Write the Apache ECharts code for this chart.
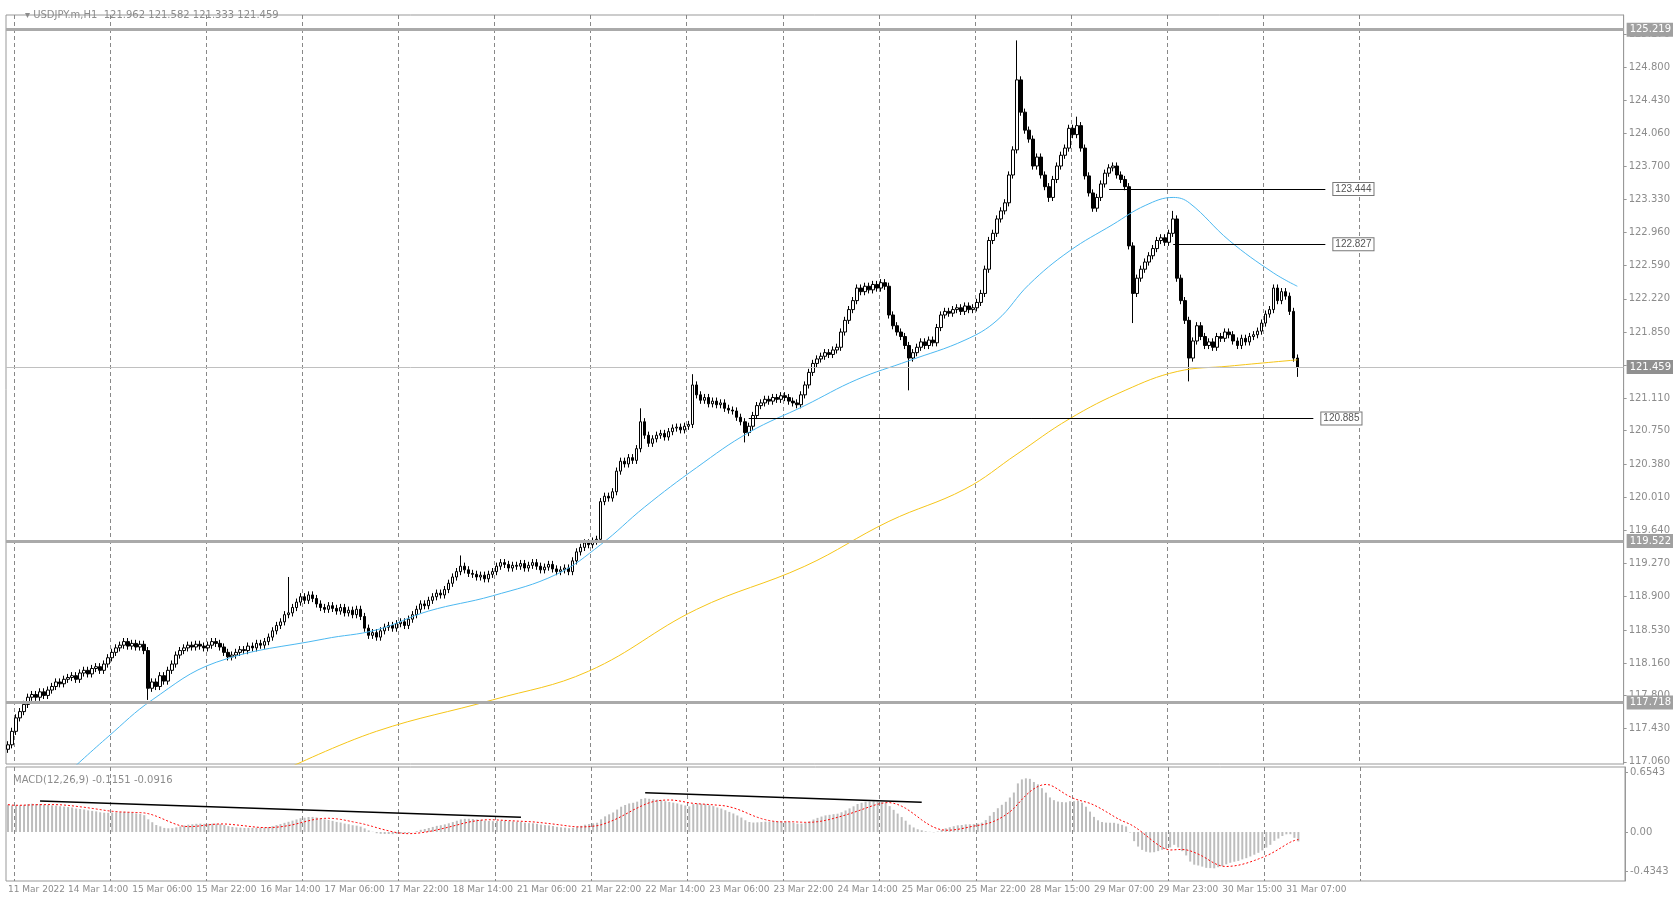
<!DOCTYPE html>
<html><head><meta charset="utf-8">
<script src="https://cdn.jsdelivr.net/npm/echarts@6/dist/echarts.min.js"></script>
<style>html,body{margin:0;padding:0;background:#fff}#c{width:1673px;height:897px}</style>
</head><body><div id="c"></div>
<script>
const closes = [
117.25,117.40,117.55,117.62,117.70,117.78,117.81,117.78,117.84,117.80,117.86,117.90,117.95,117.93,117.98,118.00,
118.02,117.98,118.05,118.08,118.04,118.10,118.12,118.08,118.15,118.22,118.28,118.33,118.36,118.40,118.35,118.38,
118.34,118.37,118.30,117.88,117.95,117.90,118.02,117.96,118.08,118.15,118.25,118.30,118.33,118.36,118.34,118.37,
118.35,118.33,118.36,118.40,118.38,118.34,118.28,118.23,118.25,118.28,118.31,118.30,118.35,118.33,118.38,118.36,
118.40,118.45,118.52,118.58,118.62,118.70,118.72,118.78,118.84,118.90,118.86,118.92,118.88,118.82,118.78,118.76,
118.80,118.77,118.74,118.78,118.72,118.75,118.70,118.76,118.68,118.55,118.47,118.50,118.45,118.52,118.56,118.58,
118.55,118.60,118.62,118.58,118.65,118.70,118.76,118.82,118.80,118.86,118.90,118.94,118.92,118.98,119.05,119.12,
119.18,119.24,119.20,119.16,119.15,119.12,119.14,119.10,119.15,119.18,119.24,119.28,119.26,119.22,119.25,119.24,
119.27,119.22,119.25,119.28,119.24,119.20,119.23,119.26,119.21,119.18,119.20,119.22,119.18,119.30,119.40,119.45,
119.50,119.48,119.52,119.54,119.96,120.02,120.00,120.07,120.30,120.41,120.38,120.45,120.42,120.55,120.85,120.70,
120.61,120.66,120.70,120.72,120.68,120.74,120.78,120.79,120.76,120.80,120.82,121.26,121.15,121.09,121.12,121.05,
121.08,121.04,121.06,121.00,120.98,120.97,120.90,120.85,120.73,120.80,120.92,121.03,121.06,121.10,121.08,121.12,
121.10,121.14,121.12,121.08,121.06,121.04,121.15,121.26,121.40,121.50,121.55,121.58,121.62,121.60,121.65,121.68,
121.85,121.98,122.10,122.20,122.34,122.30,122.36,122.32,122.38,122.34,122.40,122.36,122.04,121.92,121.85,121.80,
121.70,121.56,121.62,121.68,121.74,121.70,121.76,121.73,121.90,122.04,122.08,122.06,122.10,122.12,122.08,122.14,
122.10,122.12,122.18,122.28,122.55,122.87,122.95,123.11,123.20,123.29,123.60,123.88,124.66,124.30,124.10,124.00,
123.70,123.80,123.60,123.47,123.35,123.55,123.70,123.82,123.90,124.12,124.05,124.15,123.90,123.59,123.40,123.23,
123.35,123.50,123.62,123.68,123.70,123.60,123.55,123.47,122.81,122.28,122.45,122.55,122.63,122.70,122.78,122.87,
122.90,122.85,122.95,123.11,122.45,122.20,121.98,121.56,121.75,121.92,121.80,121.70,121.74,121.68,121.80,121.78,
121.85,121.82,121.75,121.70,121.78,121.74,121.80,121.82,121.86,121.95,122.05,122.10,122.34,122.20,122.30,122.25,
122.08,121.56,121.459];
const firstOpen = 117.20;
// [barIndex, high, low] wick overrides
const wicks = [[35,null,117.75],[70,119.12,null],[113,119.36,null],[158,121.0,null],[171,121.38,null],[184,null,120.62],
[225,null,121.2],[252,125.1,null],[260,null,123.3],[267,124.25,null],[281,null,121.95],[291,123.2,null],[295,null,121.3],[322,null,121.35]];
const maFast = [[16,116.98],[25,117.34],[36,117.75],[52,118.17],[79,118.43],[92,118.53],[105,118.74],[121,118.91],[137,119.15],[148,119.48],
[159,119.9],[172,120.34],[185,120.73],[199,121.03],[212,121.32],[225,121.53],[239,121.76],[247,121.98],[255,122.38],[265,122.75],
[276,123.05],[284,123.26],[291,123.35],[295,123.29],[305,122.87],[316,122.51],[322,122.36]];
const maSlow = [[70,116.99],[92,117.4],[121,117.75],[145,118.07],[172,118.76],[199,119.24],[220,119.74],[239,120.1],[252,120.49],
[265,120.88],[279,121.2],[292,121.41],[305,121.47],[322,121.54]];
const xLabels = ["11 Mar 2022","14 Mar 14:00","15 Mar 06:00","15 Mar 22:00","16 Mar 14:00","17 Mar 06:00","17 Mar 22:00","18 Mar 14:00",
"21 Mar 06:00","21 Mar 22:00","22 Mar 14:00","23 Mar 06:00","23 Mar 22:00","24 Mar 14:00","25 Mar 06:00","25 Mar 22:00",
"28 Mar 15:00","29 Mar 07:00","29 Mar 23:00","30 Mar 15:00","31 Mar 07:00"];
const yTicks = [117.06,117.43,117.80,118.16,118.53,118.90,119.27,119.64,120.01,120.38,120.75,121.11,121.48,121.85,122.22,122.59,122.96,123.33,123.70,124.06,124.43,124.80,125.17];
const priceLines = [125.219,119.522,117.718];
const lastPrice = 121.459;
const levels = [[275,123.444],[291,122.827],[185,120.885]];
const levelEnds = [329,329,326];
const macdTrends = [[[8,0.339],[128,0.163]],[[159,0.432],[228,0.327]]];
const macdSeedGap = 0.30;

const N = 404;
const cats = []; for (let i=0;i<N;i++) cats.push(i);
const wmap = {}; wicks.forEach(w=>wmap[w[0]]=w);
const ohlc = closes.map((c,i)=>{
  const o = i===0?firstOpen:closes[i-1];
  let h = Math.max(o,c)+0.04, l = Math.min(o,c)-0.04;
  if (wmap[i]) { if (wmap[i][1]!=null) h=wmap[i][1]; if (wmap[i][2]!=null) l=wmap[i][2]; }
  return [o,c,l,h];
});
let e12=closes[0], e26=closes[0]-macdSeedGap; const macd=[], sig=[];
closes.forEach((c,i)=>{ if(i>0){e12=e12+(c-e12)*2/13; e26=e26+(c-e26)*2/27;} macd.push(+(e12-e26).toFixed(4)); });
macd.forEach((m,i)=>{ const s=macd.slice(Math.max(0,i-8),i+1); sig.push(+(s.reduce((a,b)=>a+b,0)/s.length).toFixed(4)); });

const labelIdx = {}; xLabels.forEach((t,k)=>{ labelIdx[k===0?0:15+16*(k-1)] = t; });
const txt={color:'#8c8c8c',fontSize:10,fontFamily:'Tahoma, DejaVu Sans, sans-serif'};
const gridLine = (i)=>i%24===2 && i<=340;

const boxLbl = (v,bg)=>({show:true,position:'end',distance:4,color:'#fff',backgroundColor:bg,borderColor:bg,borderWidth:1,padding:[1,2],fontSize:10,fontFamily:'DejaVu Sans',formatter:()=>v.toFixed(3)});
const markData = [];
priceLines.forEach(v=>markData.push({yAxis:v,lineStyle:{color:'#aaaaaa',width:3,type:'solid'},label:boxLbl(v,'#a0a0a0')}));
markData.push({yAxis:lastPrice,lineStyle:{color:'#c0c0c0',width:1,type:'solid'},label:boxLbl(lastPrice,'#909090')});
const segs = levels.map((l,k)=>[{coord:[l[0],l[1]],lineStyle:{color:'#000',width:1,type:'solid'}},{coord:[levelEnds[k],l[1]],
  label:{show:true,position:'end',distance:8,color:'#555',backgroundColor:'#fff',borderColor:'#777',borderWidth:1,padding:[1,2],fontSize:10,formatter:()=>l[1].toFixed(3)}}]);

const chart = echarts.init(document.getElementById('c'));
chart.setOption({
  animation:false,
  grid:[{left:6,width:1619,top:15,height:749,show:true,borderColor:'#999'},{left:6,width:1619,top:767,height:114,show:true,borderColor:'#999'}],
  title:[{text:'▾ USDJPY.m,H1  121.962 121.582 121.333 121.459',left:20,top:5,textStyle:{...txt,fontWeight:'normal',fontSize:10}},
         {text:'MACD(12,26,9) -0.1151 -0.0916',left:8,top:770,textStyle:{...txt,fontWeight:'normal',fontSize:10}}],
  xAxis:[
    {type:'category',data:cats,gridIndex:0,axisLine:{show:false},axisTick:{show:false},axisLabel:{show:false},
     splitLine:{show:true,interval:gridLine,lineStyle:{color:'#888',type:[4,3]}}},
    {type:'category',data:cats,gridIndex:1,axisLine:{show:false},axisTick:{show:false},
     axisLabel:{show:true,interval:(i)=>labelIdx[i]!==undefined,formatter:(v,i)=>labelIdx[i]||'',align:'left',margin:4,...txt,fontSize:9},
     splitLine:{show:true,interval:gridLine,lineStyle:{color:'#888',type:[4,3]}}}
  ],
  yAxis:[
    {type:'value',gridIndex:0,position:'right',min:117.036,max:125.383,splitLine:{show:false},
     axisLine:{show:true,lineStyle:{color:'#999'}},axisTick:{show:true,customValues:yTicks,length:3},
     axisLabel:{customValues:yTicks,formatter:v=>v.toFixed(3),...txt,margin:5}},
    {type:'value',gridIndex:1,position:'right',min:-0.537,max:0.713,splitLine:{show:false},
     axisLine:{show:true,lineStyle:{color:'#999'}},axisTick:{show:true,customValues:[-0.4343,0,0.6543],length:3},
     axisLabel:{customValues:[-0.4343,0,0.6543],formatter:v=>v===0?'0.00':v.toFixed(4),...txt,margin:5}}
  ],
  series:[
    {type:'candlestick',data:ohlc,xAxisIndex:0,yAxisIndex:0,barWidth:3,
     itemStyle:{color:'#fff',color0:'#000',borderColor:'#000',borderColor0:'#000',borderWidth:1},
     markLine:{symbol:'none',silent:true,data:markData.concat(segs)}},
    {type:'line',data:maFast,smooth:0.4,showSymbol:false,lineStyle:{color:'#4cb8f0',width:1},xAxisIndex:0,yAxisIndex:0},
    {type:'line',data:maSlow,smooth:0.4,showSymbol:false,lineStyle:{color:'#f5c518',width:1},xAxisIndex:0,yAxisIndex:0},
    {type:'bar',data:macd,xAxisIndex:1,yAxisIndex:1,barWidth:2,itemStyle:{color:'#bdbdbd'}},
    {type:'line',data:sig,xAxisIndex:1,yAxisIndex:1,showSymbol:false,lineStyle:{color:'#ff0000',width:1,type:[2,2]}},
    ...macdTrends.map(t=>({type:'line',data:t,xAxisIndex:1,yAxisIndex:1,showSymbol:false,lineStyle:{color:'#000',width:1.5}}))
  ]
});
</script></body></html>
